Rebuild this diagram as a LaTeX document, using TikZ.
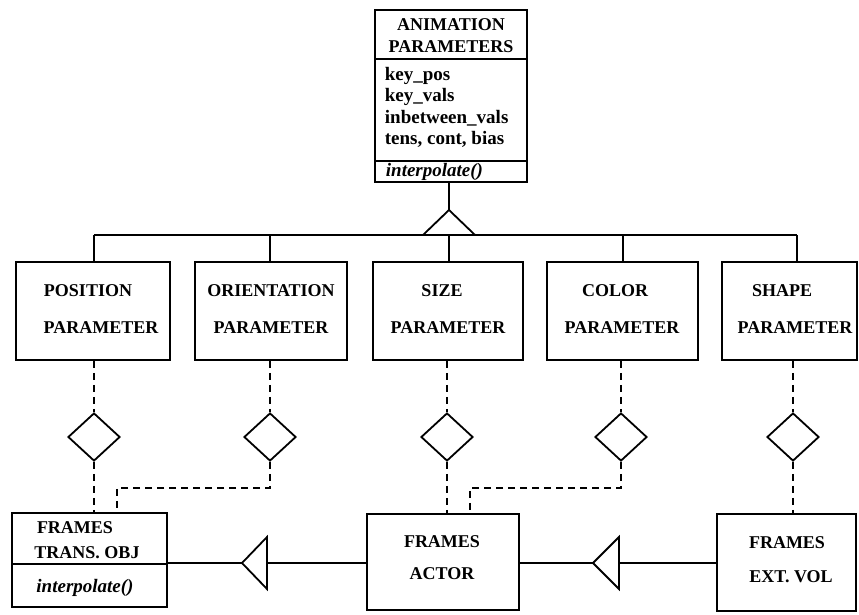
\documentclass[tikz,border=0pt]{standalone}
\usepackage{fontspec}
\setmainfont{Liberation Serif}
\usetikzlibrary{shapes.geometric}
\begin{document}
\begin{tikzpicture}[x=1pt,y=-1pt,line width=1.8pt,line join=miter,
  box/.style={draw,rectangle,inner sep=0pt,line width=1.8pt},
  dia/.style={draw,diamond,inner sep=0pt,minimum width=52pt,minimum height=48pt,line width=1.8pt},
  txt/.style={inner sep=0pt,font=\fontsize{18}{22}\selectfont\bfseries},
  attr/.style={inner sep=0pt,align=left,font=\fontsize{19}{21.5}\selectfont\bfseries},
  meth/.style={inner sep=0pt,font=\fontsize{19}{22}\selectfont\bfseries\itshape},
  dsh/.style={dash pattern=on 7pt off 5pt,line width=1.8pt}]
\useasboundingbox[fill=white] (0,0) rectangle (859,615);

% top class
\node[box,minimum width=152pt,minimum height=172pt] (anim) at (451,96) {};
\draw (anim.west |- 0,59) -- (anim.east |- 0,59);
\draw (anim.west |- 0,161) -- (anim.east |- 0,161);
\node[txt,align=center,font=\fontsize{18}{22}\selectfont\bfseries] (animt) at (451,36) {ANIMATION\\PARAMETERS};
\node[attr,anchor=west] (animattr) at (384,107.5) {key\_pos\\key\_vals\\inbetween\_vals\\tens, cont, bias};
\node[meth,anchor=west] (animm) at (385,172) {interpolate()};

% generalization
\coordinate (tapex) at (449,210);
\draw (tapex |- anim.south) -- (tapex);
\draw (tapex) -- (423,235) -- (475,235) -- cycle;
\coordinate (j1) at (94,235);
\coordinate (j2) at (270,235);
\coordinate (j3) at (449,235);
\coordinate (j4) at (623,235);
\coordinate (j5) at (797,235);
\draw (j1) -- (j5);

% parameter boxes
\node[box,minimum width=154pt,minimum height=98pt] (pos) at (93,311) {};
\node[box,minimum width=152pt,minimum height=98pt] (ori) at (271,311) {};
\node[box,minimum width=150pt,minimum height=98pt] (size) at (448,311) {};
\node[box,minimum width=151pt,minimum height=98pt] (col) at (622.5,311) {};
\node[box,minimum width=135pt,minimum height=98pt] (shp) at (789.5,311) {};
\foreach \j/\b in {j1/pos,j2/ori,j3/size,j4/col,j5/shp}
  \draw (\j) -- (\j |- \b.north);

\node[txt] (pos1) at (88,291) {POSITION};
\node[txt] (pos2) at (101,328) {PARAMETER};
\node[txt] (ori1) at (271,291) {ORIENTATION};
\node[txt] (ori2) at (271,328) {PARAMETER};
\node[txt] (size1) at (442,291) {SIZE};
\node[txt] (size2) at (448,328) {PARAMETER};
\node[txt] (col1) at (615,291) {COLOR};
\node[txt] (col2) at (622,328) {PARAMETER};
\node[txt] (shp1) at (782,291) {SHAPE};
\node[txt] (shp2) at (795,328) {PARAMETER};

% diamonds
\node[dia] (d1) at (94,437) {};
\node[dia] (d2) at (270,437) {};
\node[dia] (d3) at (447,437) {};
\node[dia] (d4) at (621,437) {};
\node[dia] (d5) at (793,437) {};

% bottom boxes
\node[box,minimum width=155pt,minimum height=94pt] (trans) at (89.5,560) {};
\draw (trans.west |- 0,564) -- (trans.east |- 0,564);
\node[box,minimum width=152pt,minimum height=96pt] (actor) at (443,562) {};
\node[box,minimum width=139pt,minimum height=97pt] (ext) at (786.5,562.5) {};

\node[txt] (tr1) at (75,528) {FRAMES};
\node[txt] (tr2) at (87,553) {TRANS. OBJ};
\node[meth] (tr3) at (85,588) {interpolate()};
\node[txt] (ac1) at (442,542) {FRAMES};
\node[txt] (ac2) at (442,574) {ACTOR};
\node[txt] (ex1) at (787,543) {FRAMES};
\node[txt] (ex2) at (791,577) {EXT. VOL};

% dashed associations
\draw[dsh] (d1.north |- pos.south) -- (d1.north);
\draw[dsh] (d1.south) -- (d1.south |- trans.north);
\draw[dsh] (d2.north |- ori.south) -- (d2.north);
\coordinate (k2) at (117,488);
\draw[dsh] (d2.south) |- (k2) -- (k2 |- trans.north);
\draw[dsh] (d3.north |- size.south) -- (d3.north);
\draw[dsh] (d3.south) -- (d3.south |- actor.north);
\draw[dsh] (d4.north |- col.south) -- (d4.north);
\coordinate (k4) at (470,488);
\draw[dsh] (d4.south) |- (k4) -- (k4 |- actor.north);
\draw[dsh] (d5.north |- shp.south) -- (d5.north);
\draw[dsh] (d5.south) -- (d5.south |- ext.north);

% bottom generalizations
\coordinate (a1) at (242,563);
\coordinate (b1) at (267,563);
\draw (actor.west |- b1) -- (b1);
\draw (a1) -- (a1 -| trans.east);
\draw (a1) -- (267,537) -- (267,589) -- cycle;
\coordinate (a2) at (593,563);
\coordinate (b2) at (619,563);
\draw (ext.west |- b2) -- (b2);
\draw (a2) -- (a2 -| actor.east);
\draw (a2) -- (619,537) -- (619,589) -- cycle;
\end{tikzpicture}
\end{document}
